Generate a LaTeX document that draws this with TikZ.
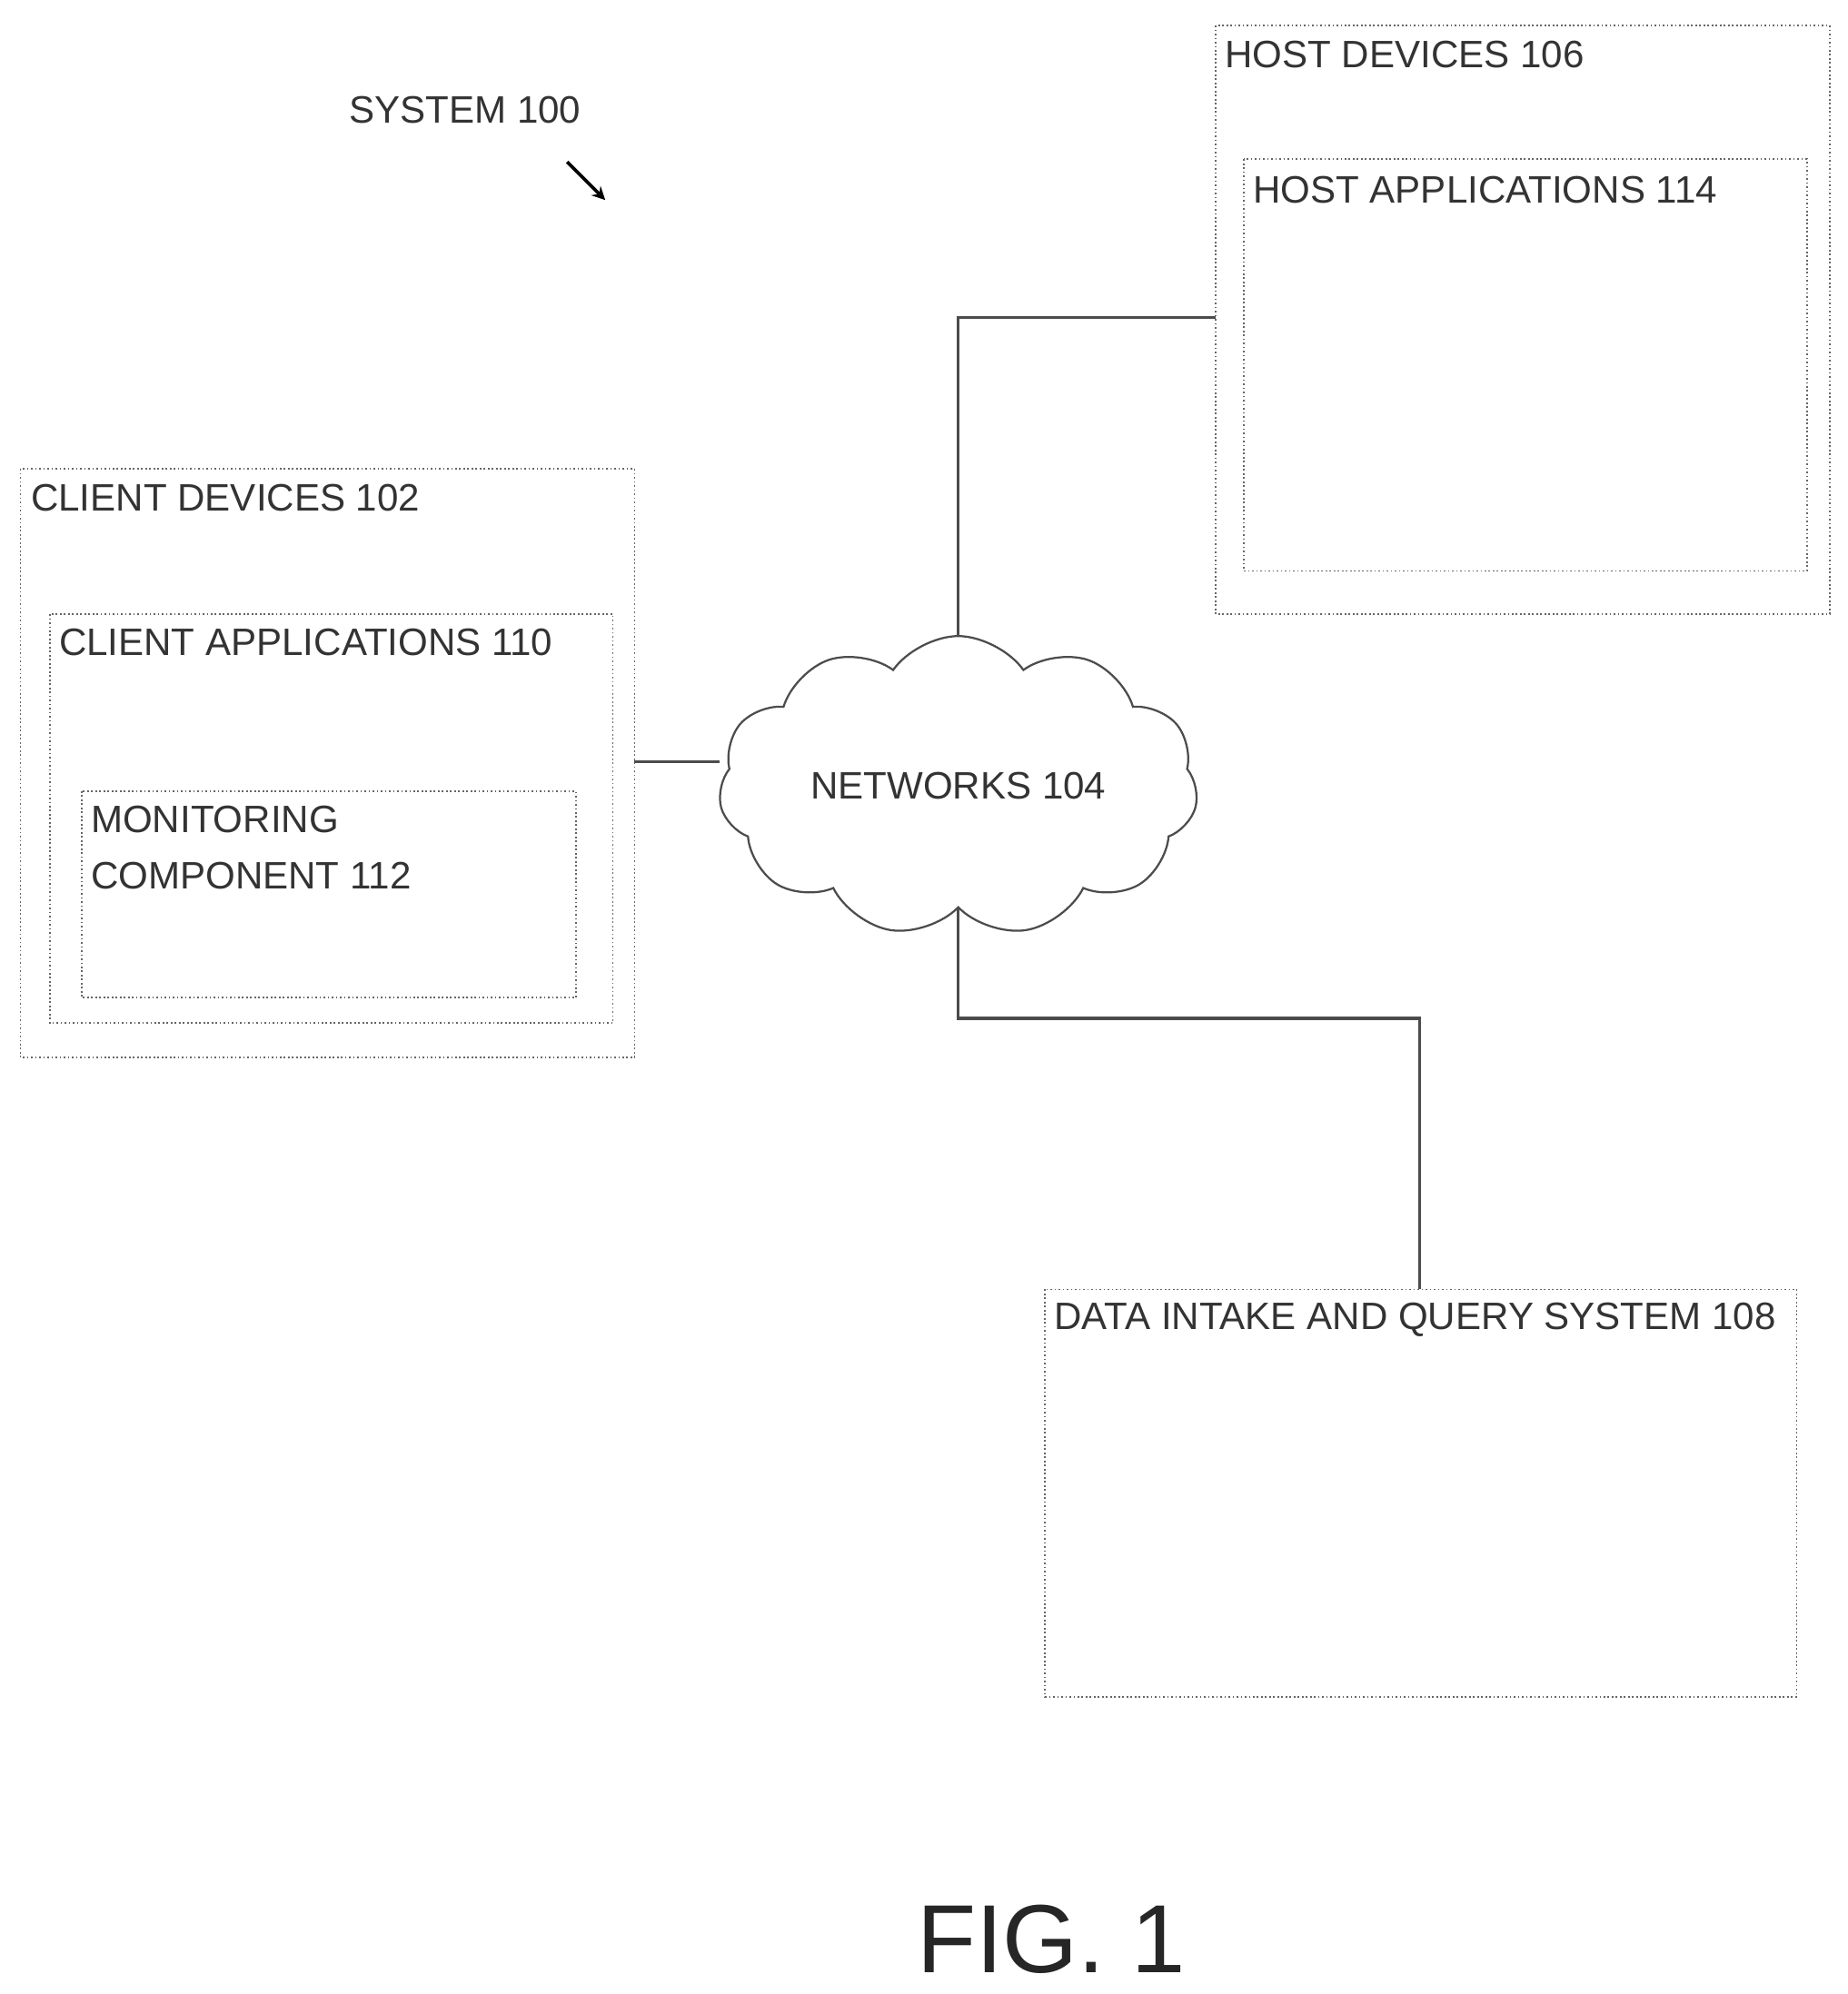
\documentclass[tikz,border=0pt]{standalone}
\usepackage{fontspec}
\setmainfont{Liberation Sans}
\usetikzlibrary{shapes.symbols}
\begin{document}
\begin{tikzpicture}[x=0.5pt,y=-0.5pt,
  box/.style={draw=black!60,densely dotted,line width=0.6pt},
  lbl/.style={anchor=north west,inner sep=0pt,font=\fontsize{15}{18}\selectfont,text=black!80},
  wire/.style={draw=black!70,line width=1.2pt}]
\useasboundingbox (0,0) rectangle (1450,1565);
\node[lbl,anchor=center] (sys) at (365,86) {SYSTEM 100};
\coordinate (a1) at (445,127); \coordinate (a2) at (475,157);
\draw[-stealth,line width=1.3pt] (a1) -- (a2);
% client
\draw[box] (16,368) rectangle (498,830);
\node[lbl] (cd) at (24,380) {CLIENT DEVICES 102};
\draw[box] (39,482) rectangle (481,803);
\node[lbl] (ca) at (46,493) {CLIENT APPLICATIONS 110};
\draw[box] (64,621) rectangle (452,783);
\node[lbl,align=left] (mc) at (71,632) {MONITORING\\[4pt]COMPONENT 112};
% host
\draw[box] (954,20) rectangle (1436,482);
\node[lbl] (hd) at (961,32) {HOST DEVICES 106};
\draw[box] (976,125) rectangle (1418,448);
\node[lbl] (ha) at (983,138) {HOST APPLICATIONS 114};
% data
\draw[box] (820,1012) rectangle (1410,1332);
\node[lbl] (di) at (827,1022) {DATA INTAKE AND QUERY SYSTEM 108};
% cloud
\node[cloud,cloud puffs=11,cloud puff arc=110,aspect=1.8,draw=black!70,line width=0.8pt,
  minimum width=188pt,minimum height=105pt,font=\fontsize{15}{18}\selectfont,text=black!80] (net) at (752,617) {NETWORKS 104};
\coordinate (c1) at (498,598);
\coordinate (h1) at (954,249);
\coordinate (d1) at (1114,1012);
\draw[wire] (c1) -- (net.west |- c1);
\draw[wire] (net.north) |- (h1);
\draw[wire] (net.south) -- ++(0,86) -| (d1);
\node[font=\fontsize{38}{44}\selectfont,text=black!85] (fig) at (825,1522) {FIG. 1};
\end{tikzpicture}
\end{document}
